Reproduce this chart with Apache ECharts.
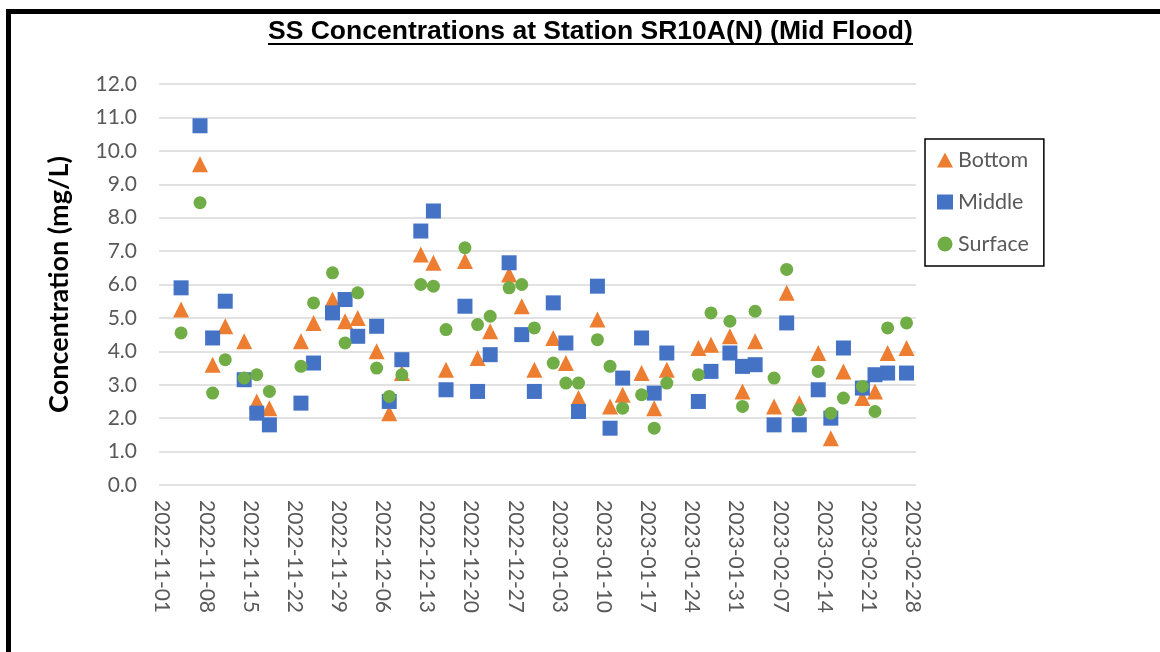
<!DOCTYPE html>
<html>
<head>
<meta charset="utf-8">
<script src="https://cdn.jsdelivr.net/npm/echarts@6/dist/echarts.min.js"></script>
<style>
  html, body { margin: 0; padding: 0; background: #ffffff; }
  #chart { width: 1160px; height: 652px; }
</style>
</head>
<body>
<div id="chart"></div>
<script>
// Axis range (one category per calendar day)
const startDate = '2022-11-01';
const endDate = '2023-02-28';

// Sampling dates
const sampleDates = [
  '2022-11-04', '2022-11-07', '2022-11-09', '2022-11-11', '2022-11-14', '2022-11-16',
  '2022-11-18', '2022-11-23', '2022-11-25', '2022-11-28', '2022-11-30', '2022-12-02',
  '2022-12-05', '2022-12-07', '2022-12-09', '2022-12-12', '2022-12-14', '2022-12-16',
  '2022-12-19', '2022-12-21', '2022-12-23', '2022-12-26', '2022-12-28', '2022-12-30',
  '2023-01-02', '2023-01-04', '2023-01-06', '2023-01-09', '2023-01-11', '2023-01-13',
  '2023-01-16', '2023-01-18', '2023-01-20', '2023-01-25', '2023-01-27', '2023-01-30',
  '2023-02-01', '2023-02-03', '2023-02-06', '2023-02-08', '2023-02-10', '2023-02-13',
  '2023-02-15', '2023-02-17', '2023-02-20', '2023-02-22', '2023-02-24', '2023-02-27'
];

// SS concentration (mg/L) by depth
const bottom = [
  5.25, 9.6, 3.6, 4.75, 4.3, 2.5, 2.3, 4.3, 4.85, 5.55, 4.9, 5.0,
  4.0, 2.15, 3.35, 6.9, 6.65, 3.45, 6.7, 3.8, 4.6, 6.3, 5.35, 3.45,
  4.4, 3.65, 2.6, 4.95, 2.35, 2.7, 3.35, 2.3, 3.45, 4.1, 4.2, 4.45,
  2.8, 4.3, 2.35, 5.75, 2.45, 3.95, 1.4, 3.4, 2.6, 2.8, 3.95, 4.1
];
const middle = [
  5.9, 10.75, 4.4, 5.5, 3.15, 2.15, 1.8, 2.45, 3.65, 5.15, 5.55, 4.45,
  4.75, 2.5, 3.75, 7.6, 8.2, 2.85, 5.35, 2.8, 3.9, 6.65, 4.5, 2.8,
  5.45, 4.25, 2.2, 5.95, 1.7, 3.2, 4.4, 2.75, 3.95, 2.5, 3.4, 3.95,
  3.55, 3.6, 1.8, 4.85, 1.8, 2.85, 2.0, 4.1, 2.9, 3.3, 3.35, 3.35
];
const surface = [
  4.55, 8.45, 2.75, 3.75, 3.2, 3.3, 2.8, 3.55, 5.45, 6.35, 4.25, 5.75,
  3.5, 2.65, 3.3, 6.0, 5.95, 4.65, 7.1, 4.8, 5.05, 5.9, 6.0, 4.7,
  3.65, 3.05, 3.05, 4.35, 3.55, 2.3, 2.7, 1.7, 3.05, 3.3, 5.15, 4.9,
  2.35, 5.2, 3.2, 6.45, 2.25, 3.4, 2.15, 2.6, 2.95, 2.2, 4.7, 4.85
];

const seriesNames = ['Bottom', 'Middle', 'Surface'];
const seriesColors = ['#ED7D31', '#4472C4', '#70AD47'];

// Build the list of days for the category axis
function dayList(from, to) {
  const out = [];
  const d = new Date(from + 'T00:00:00Z');
  const end = new Date(to + 'T00:00:00Z');
  while (d <= end) {
    out.push(d.toISOString().slice(0, 10));
    d.setUTCDate(d.getUTCDate() + 1);
  }
  return out;
}
const days = dayList(startDate, endDate);

function pairs(values) {
  return sampleDates.map((dt, i) => [dt, values[i]]);
}

const labelFont = 'Lato, "Open Sans", sans-serif';
const chart = echarts.init(document.getElementById('chart'), null, { renderer: 'canvas' });

chart.setOption({
  backgroundColor: '#ffffff',
  animation: false,
  title: {
    text: 'SS Concentrations at Station SR10A(N) (Mid Flood)',
    left: 268,
    top: 18,
    padding: 0,
    textStyle: {
      fontFamily: '"Liberation Sans", Arial, sans-serif',
      fontWeight: 'bold',
      fontSize: 26.5,
      color: '#000000'
    }
  },
  graphic: [
    {
      type: 'rect',
      silent: true,
      shape: { x: 8.5, y: 11.5, width: 1200, height: 700 },
      style: { fill: null, stroke: '#000000', lineWidth: 5 }
    },
    {
      type: 'line',
      silent: true,
      shape: { x1: 268, y1: 44, x2: 913, y2: 44 },
      style: { stroke: '#000000', lineWidth: 2 }
    }
  ],
  legend: {
    orient: 'vertical',
    left: 925,
    top: 139,
    padding: [10, 15, 11, 12],
    itemGap: 20,
    itemWidth: 16,
    itemHeight: 15,
    borderColor: '#000000',
    borderWidth: 1.5,
    backgroundColor: '#ffffff',
    textStyle: { fontFamily: labelFont, fontSize: 21.5, color: '#595959', lineHeight: 22 },
    data: [
      { name: 'Bottom', icon: 'triangle' },
      { name: 'Middle', icon: 'rect' },
      { name: 'Surface', icon: 'circle' }
    ]
  },
  grid: {
    left: 159,
    right: 244,
    top: 84,
    bottom: 167,
    containLabel: false,
    outerBoundsMode: 'none'
  },
  xAxis: {
    type: 'category',
    data: days,
    boundaryGap: true,
    axisLine: { show: false },
    axisTick: { show: false },
    splitLine: { show: false },
    axisLabel: {
      interval: 6,
      rotate: -90,
      margin: 15,
      fontFamily: labelFont,
      fontSize: 21,
      color: '#595959',
      hideOverlap: false
    }
  },
  yAxis: {
    type: 'value',
    min: 0,
    max: 12,
    interval: 1,
    name: 'Concentration (mg/L)',
    nameLocation: 'middle',
    nameGap: 86,
    nameRotate: 90,
    nameTextStyle: { fontFamily: labelFont, fontWeight: 'bold', fontSize: 27, color: '#000000' },
    axisLine: { show: false },
    axisTick: { show: false },
    splitLine: { show: true, lineStyle: { color: '#d9d9d9', width: 1.5 } },
    axisLabel: {
      margin: 22,
      fontFamily: labelFont,
      fontSize: 21,
      color: '#595959',
      formatter: v => v.toFixed(1)
    }
  },
  series: [
    { name: seriesNames[0], type: 'scatter', symbol: 'triangle', symbolSize: 16, data: pairs(bottom), itemStyle: { color: seriesColors[0], opacity: 1 } },
    { name: seriesNames[1], type: 'scatter', symbol: 'rect', symbolSize: 15, data: pairs(middle), itemStyle: { color: seriesColors[1], opacity: 1 } },
    { name: seriesNames[2], type: 'scatter', symbol: 'circle', symbolSize: 13, data: pairs(surface), itemStyle: { color: seriesColors[2], opacity: 1 } }
  ]
});
</script>
</body>
</html>
